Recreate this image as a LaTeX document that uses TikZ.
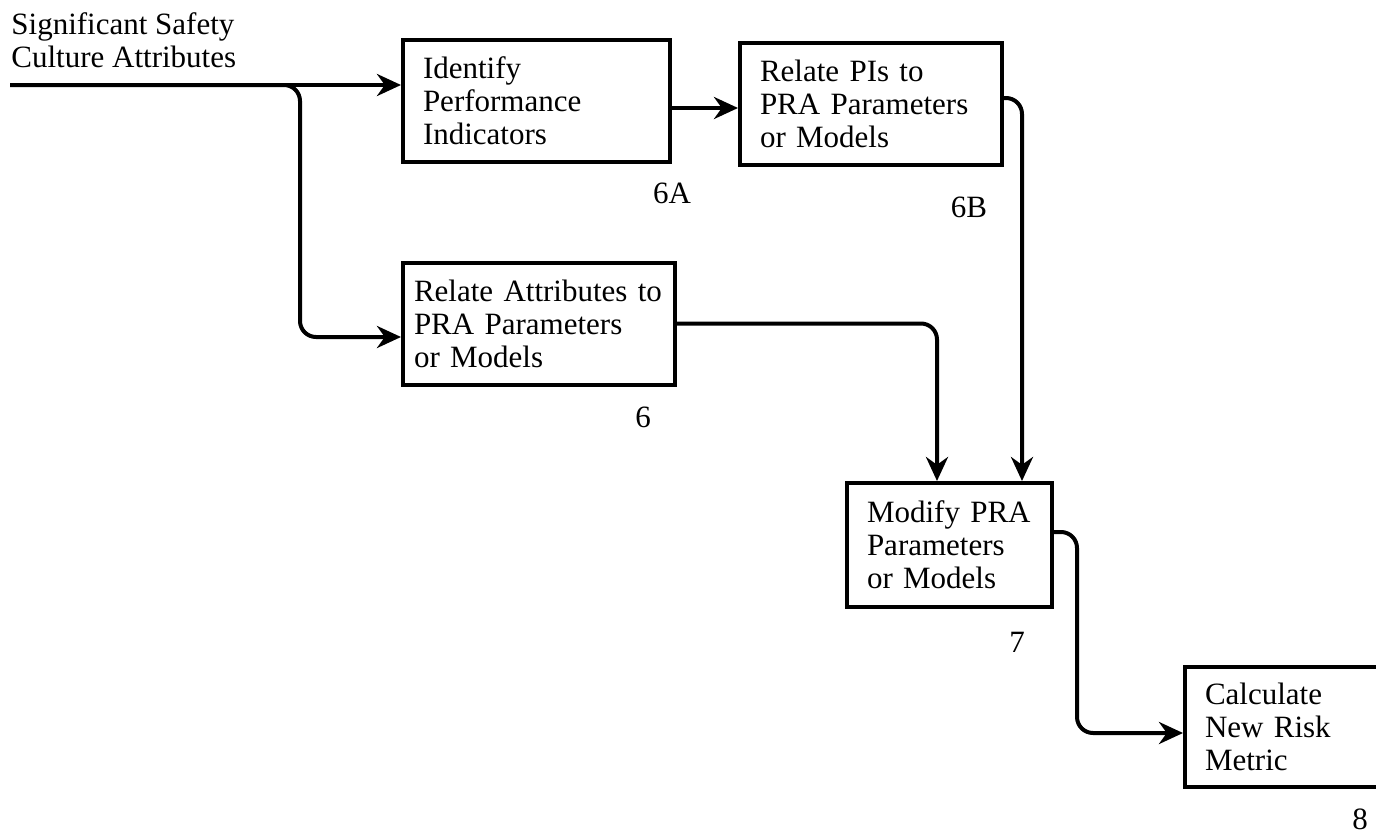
\documentclass[tikz,border=0pt]{standalone}
\usepackage{fontspec}
\setmainfont{Liberation Serif}
\usepackage{tikz}
\usetikzlibrary{arrows.meta,positioning,calc}

\tikzset{
  procbox/.style={draw, line width=2pt, align=left, inner xsep=10pt, inner ysep=0pt, minimum height=61pt},
  flow/.style={line width=2pt, -{Stealth[length=12pt,width=11pt]}},
  tag/.style={inner sep=0pt}
}

\begin{document}
\begin{tikzpicture}[x=0.5pt,y=-0.5pt,font=\fontsize{15.5}{16.5}\selectfont]

\useasboundingbox (0,0) rectangle (1376,835);

% --- Input ---
\node[tag, anchor=north west, align=left] (title) at (11,12) {Significant Safety\\Culture Attributes};
\coordinate (src) at (10,85);
\coordinate (fork) at (300,337);

% --- Boxes ---
\node[procbox, text width=113.5pt] (b6a) at (536.5,101) {Identify\\Performance\\Indicators};
\node[procbox, text width=111pt] (b6b) at (871,104) {Relate PIs to\\PRA Parameters\\or Models};
\node[procbox, text width=125pt, inner xsep=5.5pt] (b6) at (539,323.5) {Relate Attributes to\\PRA Parameters\\or Models};
\node[procbox, text width=82.5pt, minimum height=62pt] (b7) at (949.5,545) {Modify PRA\\Parameters\\or Models};
\node[procbox, text width=82.5pt, minimum height=60pt] (b8) at (1287.5,727) {Calculate\\New Risk\\Metric};

% Labels
\node[tag] (l6a) at (672,193) {6A};
\node[tag] (l6b) at (969,207) {6B};
\node[tag] (l6) at (643,417) {6};
\node[tag] (l7) at (1017,642) {7};
\node[tag] (l8) at (1360,819) {8};

% --- Connectors ---
\draw[flow] (src) -- (src -| b6a.west);
\draw[flow, rounded corners=8pt] (src) -| (fork) -- (fork -| b6.west);

\coordinate (a6out) at ($(b6a.east)+(0,7)$);
\draw[flow] (a6out) -- (a6out -| b6b.west);

\draw[flow, rounded corners=8pt] ($(b6b.east)+(0,-6)$) -| ($(b7.north)+(72.5,0)$);
\draw[flow, rounded corners=8pt] (b6.east) -| ($(b7.north)+(-12.5,0)$);
\draw[flow, rounded corners=8pt] ($(b7.east)+(0,-13)$) -- ++(23,0) |- ($(b8.west)+(0,6)$);

\end{tikzpicture}
\end{document}
